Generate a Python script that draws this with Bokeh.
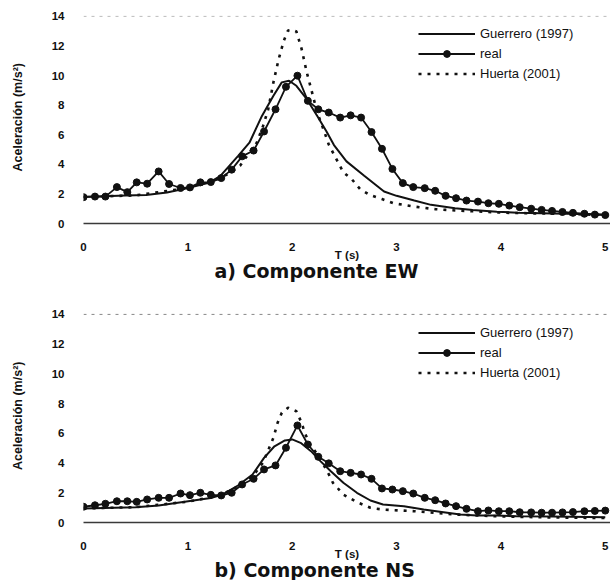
from bokeh.plotting import figure
from bokeh.models import Range1d, Legend, LegendItem, Span, FixedTicker, Title
from bokeh.layouts import column
from bokeh.embed import file_html
from bokeh.resources import INLINE

# ---------------- data ----------------
x_ticks = [0, 1, 2, 3, 4, 5]
y_ticks = [0, 2, 4, 6, 8, 10, 12, 14]

t_real = [0.00, 0.11, 0.21, 0.32, 0.42, 0.51, 0.61, 0.72, 0.82, 0.93,
          1.02, 1.12, 1.22, 1.32, 1.42, 1.52, 1.63, 1.73, 1.84, 1.94,
          2.05, 2.15, 2.25, 2.35, 2.46, 2.56, 2.66, 2.76, 2.86, 2.96,
          3.06, 3.16, 3.27, 3.37, 3.47, 3.57, 3.67, 3.78, 3.88, 3.98,
          4.08, 4.18, 4.29, 4.39, 4.49, 4.59, 4.69, 4.80, 4.90, 5.00]

# a) Componente EW
ew_real = [1.78, 1.82, 1.82, 2.46, 2.12, 2.78, 2.69, 3.52, 2.67, 2.40,
           2.44, 2.78, 2.80, 3.07, 3.64, 4.54, 4.93, 6.22, 7.72, 9.24,
           9.99, 8.29, 7.72, 7.50, 7.16, 7.31, 7.16, 6.18, 5.05, 3.69,
           2.73, 2.46, 2.39, 2.21, 1.87, 1.71, 1.55, 1.48, 1.37, 1.33,
           1.21, 1.10, 1.00, 0.92, 0.85, 0.78, 0.72, 0.66, 0.60, 0.57]

ew_guer_t = [0, 0.2, 0.4, 0.6, 0.8, 1.0, 1.2, 1.31, 1.48, 1.59, 1.71, 1.82, 1.9, 1.97,
             2.04, 2.14, 2.24, 2.33, 2.4, 2.52, 2.69, 2.88, 3.0, 3.17, 3.33, 3.56,
             3.73, 3.96, 4.16, 4.5, 5.0]
ew_guer = [1.8, 1.85, 1.9, 1.92, 2.1, 2.4, 2.75, 3.2, 4.55, 5.46, 7.27, 8.63, 9.54, 9.65,
           9.31, 8.4, 7.27, 6.2, 5.3, 4.2, 3.23, 2.16, 1.87, 1.55, 1.26, 1.03,
           0.92, 0.8, 0.73, 0.68, 0.6]

ew_huer_t = [0, 0.5, 1.0, 1.2, 1.4, 1.5, 1.6, 1.66, 1.72, 1.77, 1.82, 1.87, 1.92, 1.96,
             2.0, 2.04, 2.09, 2.14, 2.19, 2.24, 2.3, 2.35, 2.4, 2.49, 2.57, 2.65, 2.74,
             2.86, 2.97, 3.17, 3.37, 3.59, 3.82, 4.02, 4.5, 5.0]
ew_huer = [1.8, 1.9, 2.4, 2.75, 3.4, 3.9, 4.9, 5.45, 6.58, 7.72, 9.54, 11.1, 12.37, 13.05,
           13.1, 12.98, 11.8, 10.2, 8.86, 7.5, 6.36, 5.34, 4.66, 3.46, 3.0, 2.33, 1.94,
           1.65, 1.37, 1.14, 0.97, 0.87, 0.8, 0.73, 0.66, 0.58]

# b) Componente NS
ns_real = [1.06, 1.16, 1.26, 1.43, 1.43, 1.39, 1.55, 1.66, 1.66, 1.95,
           1.84, 2.00, 1.86, 1.82, 2.00, 2.56, 2.94, 3.57, 3.84, 5.03,
           6.53, 5.25, 4.42, 3.98, 3.45, 3.34, 3.23, 2.94, 2.29, 2.22,
           2.11, 1.95, 1.66, 1.50, 1.28, 1.10, 0.92, 0.76, 0.81, 0.76,
           0.76, 0.69, 0.68, 0.66, 0.66, 0.68, 0.70, 0.76, 0.78, 0.80]

ns_guer_t = [0, 0.3, 0.5, 0.72, 1.02, 1.22, 1.33, 1.48, 1.62, 1.73, 1.83, 1.93, 2.0, 2.08,
             2.18, 2.27, 2.37, 2.49, 2.62, 2.75, 2.87, 3.07, 3.26, 3.45, 3.61, 3.77,
             3.96, 4.15, 4.5, 5.0]
ns_guer = [0.95, 1.0, 1.03, 1.15, 1.45, 1.65, 1.88, 2.49, 3.23, 4.35, 5.13, 5.52, 5.59, 5.36,
           4.8, 4.13, 3.45, 2.67, 2.0, 1.48, 1.21, 1.1, 0.87, 0.69, 0.54, 0.47,
           0.47, 0.42, 0.4, 0.35]

ns_huer_t = [0, 0.5, 1.0, 1.3, 1.5, 1.62, 1.72, 1.82, 1.86, 1.9, 1.96, 2.04, 2.09, 2.12,
             2.17, 2.23, 2.29, 2.36, 2.39, 2.49, 2.62, 2.75, 2.87, 2.97, 3.17, 3.36,
             3.56, 3.77, 3.96, 4.15, 4.5, 5.0]
ns_huer = [0.95, 1.03, 1.4, 1.8, 2.5, 3.1, 4.02, 5.7, 6.71, 7.38, 7.72, 7.49, 6.71, 6.04,
           5.25, 4.69, 4.02, 3.12, 2.67, 1.88, 1.37, 0.99, 0.87, 0.83, 0.76, 0.65,
           0.54, 0.47, 0.42, 0.38, 0.34, 0.3]

legend_labels = ["Guerrero (1997)", "real", "Huerta (2001)"]
titles = ["a) Componente  EW", "b) Componente  NS"]
x_label = "T (s)"
y_label = "Aceleración  (m/s²)"

TICK_FONT = "Liberation Sans"


def panel(real, gt, gv, ht, hv, title, height, top, bottom, leg_y, top_line_color,
          title_standoff):
    p = figure(width=610, height=height, x_range=Range1d(0, 5.05), y_range=Range1d(0, 14.6),
               output_backend="svg", toolbar_location=None,
               min_border_left=83, min_border_right=0,
               min_border_top=top, min_border_bottom=bottom)
    p.grid.visible = False
    p.outline_line_color = None
    p.background_fill_color = "white"
    p.border_fill_color = "white"

    xa = p.xaxis[0]
    xa.ticker = FixedTicker(ticks=x_ticks)
    xa.axis_line_color = "#3a3a3a"
    xa.axis_line_width = 1.3
    xa.major_tick_line_color = None
    xa.minor_tick_line_color = None
    xa.major_label_standoff = 13
    xa.major_label_text_font = TICK_FONT
    xa.major_label_text_font_style = "bold"
    xa.major_label_text_font_size = "11.5px"
    xa.major_label_text_color = "#111111"
    xa.axis_label = x_label
    xa.axis_label_standoff = -5
    xa.axis_label_text_font = TICK_FONT
    xa.axis_label_text_font_style = "bold"
    xa.axis_label_text_font_size = "11.5px"
    xa.axis_label_text_color = "#111111"

    ya = p.yaxis[0]
    ya.ticker = FixedTicker(ticks=y_ticks)
    ya.axis_line_color = None
    ya.major_tick_line_color = None
    ya.minor_tick_line_color = None
    ya.major_label_standoff = 13
    ya.major_label_text_font = TICK_FONT
    ya.major_label_text_font_style = "bold"
    ya.major_label_text_font_size = "11.5px"
    ya.major_label_text_color = "#111111"
    ya.axis_label = y_label
    ya.axis_label_standoff = 24
    ya.axis_label_text_font = TICK_FONT
    ya.axis_label_text_font_style = "bold"
    ya.axis_label_text_font_size = "12.5px"
    ya.axis_label_text_color = "#111111"

    p.add_layout(Span(location=14, dimension="width", line_color=top_line_color,
                      line_width=1, line_dash="3 5"))

    h = p.line(ht, hv, line_color="#111111", line_width=2.6, line_dash="3 6")
    g = p.line(gt, gv, line_color="#111111", line_width=2)
    rl = p.line(t_real, real, line_color="#111111", line_width=1.8)
    rs = p.scatter(t_real, real, size=7, marker="circle", fill_color="#111111",
                   line_color="#111111")

    legend = Legend(items=[LegendItem(label=legend_labels[0], renderers=[g]),
                           LegendItem(label=legend_labels[1], renderers=[rl, rs]),
                           LegendItem(label=legend_labels[2], renderers=[h])],
                    location=(335, leg_y), padding=0, margin=0, spacing=3,
                    glyph_width=57, glyph_height=17, label_height=17, label_standoff=5,
                    background_fill_alpha=0, border_line_color=None,
                    label_text_font=TICK_FONT, label_text_font_size="13px",
                    label_text_color="#111111")
    p.add_layout(legend)

    p.add_layout(Title(text=title, align="left", offset=131, standoff=title_standoff,
                       vertical_align="top",
                       text_font="DejaVu Sans", text_font_style="bold",
                       text_font_size="19px", text_color="#111111"), "below")
    return p


p1 = panel(ew_real, ew_guer_t, ew_guer, ew_huer_t, ew_huer, titles[0], height=282,
           top=7, bottom=59, leg_y=141, top_line_color="#bbbbbb", title_standoff=-7)
p2 = panel(ns_real, ns_guer_t, ns_guer, ns_huer_t, ns_huer, titles[1], height=298,
           top=23, bottom=58, leg_y=141, top_line_color="#888888", title_standoff=-7)

layout = column(p1, p2, spacing=0)
open("out.html", "w").write(file_html(layout, INLINE))
